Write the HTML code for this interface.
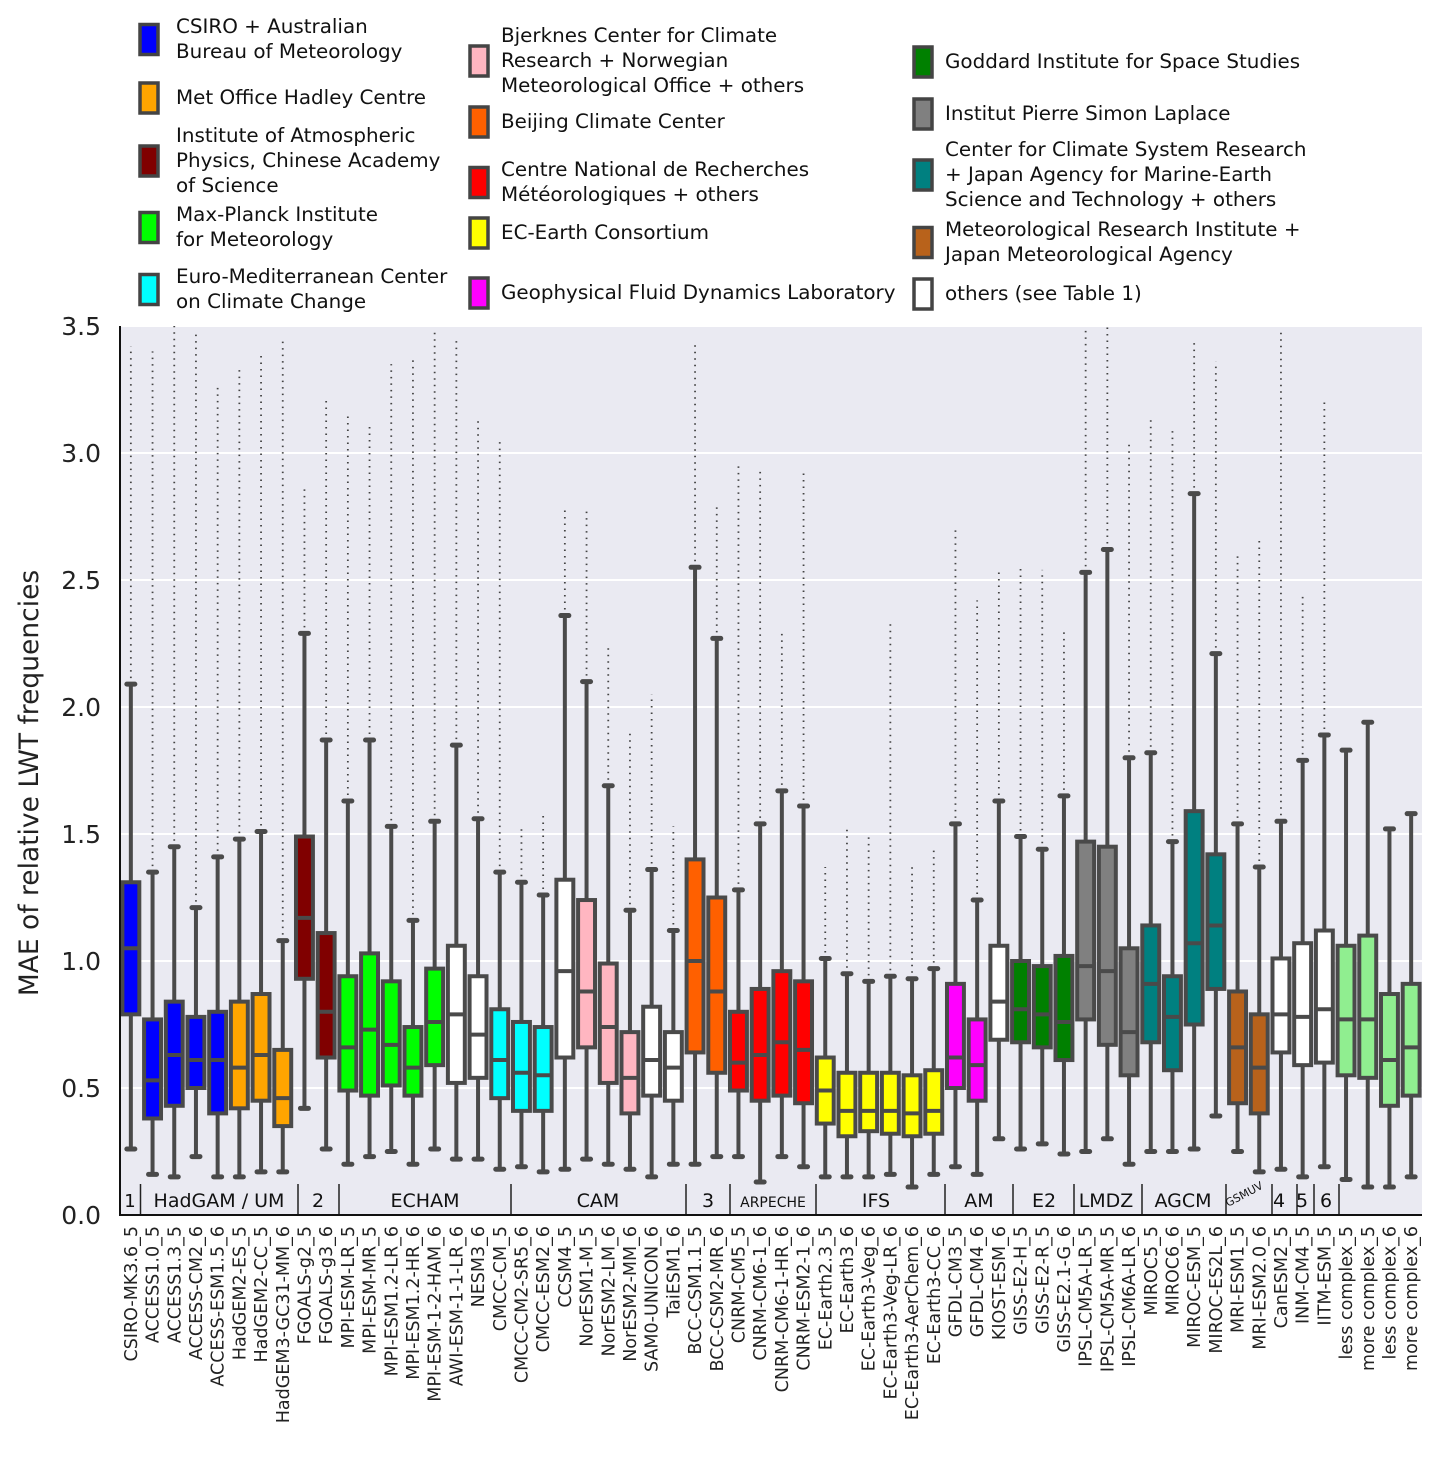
<!DOCTYPE html>
<html><head><meta charset="utf-8"><style>
body{margin:0;background:#fff;width:1441px;height:1467px;overflow:hidden;font-family:"DejaVu Sans","Liberation Sans",sans-serif;}
svg{position:absolute;left:0;top:0}
</style></head><body>
<svg id="chart" width="1441" height="1467" xmlns="http://www.w3.org/2000/svg" font-family="DejaVu Sans, Liberation Sans, sans-serif"></svg>
<script>
const models=["CSIRO-MK3.6_5","ACCESS1.0_5","ACCESS1.3_5","ACCESS-CM2_6","ACCESS-ESM1.5_6","HadGEM2-ES_5","HadGEM2-CC_5","HadGEM3-GC31-MM_6","FGOALS-g2_5","FGOALS-g3_6","MPI-ESM-LR_5","MPI-ESM-MR_5","MPI-ESM1.2-LR_6","MPI-ESM1.2-HR_6","MPI-ESM-1-2-HAM_6","AWI-ESM-1-1-LR_6","NESM3_6","CMCC-CM_5","CMCC-CM2-SR5_6","CMCC-ESM2_6","CCSM4_5","NorESM1-M_5","NorESM2-LM_6","NorESM2-MM_6","SAM0-UNICON_6","TaiESM1_6","BCC-CSM1.1_5","BCC-CSM2-MR_6","CNRM-CM5_5","CNRM-CM6-1_6","CNRM-CM6-1-HR_6","CNRM-ESM2-1_6","EC-Earth2.3_5","EC-Earth3_6","EC-Earth3-Veg_6","EC-Earth3-Veg-LR_6","EC-Earth3-AerChem_6","EC-Earth3-CC_6","GFDL-CM3_5","GFDL-CM4_6","KIOST-ESM_6","GISS-E2-H_5","GISS-E2-R_5","GISS-E2.1-G_6","IPSL-CM5A-LR_5","IPSL-CM5A-MR_5","IPSL-CM6A-LR_6","MIROC5_5","MIROC6_6","MIROC-ESM_5","MIROC-ES2L_6","MRI-ESM1_5","MRI-ESM2.0_6","CanESM2_5","INM-CM4_5","IITM-ESM_5","less complex_5","more complex_5","less complex_6","more complex_6"];
const whiskLow=[0.26,0.16,0.15,0.23,0.15,0.15,0.17,0.17,0.42,0.26,0.20,0.23,0.25,0.20,0.26,0.22,0.22,0.18,0.19,0.17,0.18,0.22,0.20,0.18,0.15,0.20,0.20,0.23,0.23,0.13,0.23,0.19,0.15,0.15,0.15,0.16,0.11,0.16,0.19,0.16,0.30,0.26,0.28,0.24,0.25,0.30,0.20,0.25,0.25,0.26,0.39,0.25,0.17,0.18,0.15,0.19,0.14,0.11,0.11,0.15];
const q1=[0.79,0.38,0.43,0.50,0.40,0.42,0.45,0.35,0.93,0.62,0.49,0.47,0.51,0.47,0.59,0.52,0.54,0.46,0.41,0.41,0.62,0.66,0.52,0.40,0.47,0.45,0.64,0.56,0.49,0.45,0.47,0.44,0.36,0.31,0.33,0.32,0.31,0.32,0.50,0.45,0.69,0.68,0.66,0.61,0.77,0.67,0.55,0.68,0.57,0.75,0.89,0.44,0.40,0.64,0.59,0.60,0.55,0.54,0.43,0.47];
const median=[1.05,0.53,0.63,0.61,0.61,0.58,0.63,0.46,1.17,0.80,0.66,0.73,0.67,0.58,0.76,0.79,0.71,0.61,0.56,0.55,0.96,0.88,0.74,0.54,0.61,0.58,1.00,0.88,0.60,0.63,0.68,0.65,0.49,0.41,0.41,0.41,0.40,0.41,0.62,0.59,0.84,0.81,0.79,0.76,0.98,0.96,0.72,0.91,0.78,1.07,1.14,0.66,0.58,0.79,0.78,0.81,0.77,0.77,0.61,0.66];
const q3=[1.31,0.77,0.84,0.78,0.80,0.84,0.87,0.65,1.49,1.11,0.94,1.03,0.92,0.74,0.97,1.06,0.94,0.81,0.76,0.74,1.32,1.24,0.99,0.72,0.82,0.72,1.40,1.25,0.80,0.89,0.96,0.92,0.62,0.56,0.56,0.56,0.55,0.57,0.91,0.77,1.06,1.00,0.98,1.02,1.47,1.45,1.05,1.14,0.94,1.59,1.42,0.88,0.79,1.01,1.07,1.12,1.06,1.10,0.87,0.91];
const whiskHigh=[2.09,1.35,1.45,1.21,1.41,1.48,1.51,1.08,2.29,1.87,1.63,1.87,1.53,1.16,1.55,1.85,1.56,1.35,1.31,1.26,2.36,2.10,1.69,1.20,1.36,1.12,2.55,2.27,1.28,1.54,1.67,1.61,1.01,0.95,0.92,0.94,0.93,0.97,1.54,1.24,1.63,1.49,1.44,1.65,2.53,2.62,1.80,1.82,1.47,2.84,2.21,1.54,1.37,1.55,1.79,1.89,1.83,1.94,1.52,1.58];
const flierMax=[3.42,3.40,3.50,3.47,3.27,3.33,3.40,3.44,2.87,3.22,3.15,3.12,3.35,3.37,3.48,3.46,3.13,3.05,1.53,1.59,2.78,2.77,2.25,1.90,2.05,1.53,3.44,2.79,2.95,2.93,2.30,2.93,1.37,1.52,1.50,2.33,1.38,1.45,2.71,2.42,2.53,2.56,2.54,2.31,3.50,3.50,3.05,3.14,3.10,3.44,3.36,2.60,2.66,3.48,2.44,3.20,1.83,1.94,1.52,1.58];
const colorKey=["blue","blue","blue","blue","blue","orange","orange","orange","dred","dred","green","green","green","green","green","white","white","cyan","cyan","cyan","white","pink","pink","pink","white","white","oran","oran","red","red","red","red","yellow","yellow","yellow","yellow","yellow","yellow","mag","mag","white","dgreen","dgreen","dgreen","gray","gray","gray","teal","teal","teal","teal","brown","brown","white","white","white","lgreen","lgreen","lgreen","lgreen"];
const yTicks=[0,0.5,1,1.5,2,2.5,3,3.5];
const palette={blue:"#0000ff",orange:"#ffa500",dred:"#800000",green:"#00ff00",cyan:"#00ffff",white:"#ffffff",pink:"#ffb6c1",oran:"#ff6000",red:"#ff0000",yellow:"#ffff00",mag:"#ff00ff",dgreen:"#008000",gray:"#808080",teal:"#008080",brown:"#b8621b",lgreen:"#90ee90"};

const NS="http://www.w3.org/2000/svg";
const svg=document.getElementById('chart');
const L=120,R=1422,T=326,B=1215;
const band=(R-L)/models.length;
const xc=i=>L+band*(i+0.5);
const y=v=>B-(v/3.5)*(B-T);
function mk(tag,attrs,parent){const e=document.createElementNS(NS,tag);for(const k in attrs)e.setAttribute(k,attrs[k]);(parent||svg).appendChild(e);return e;}

const bg=mk('rect',{x:L,y:T,width:R-L,height:B-T,fill:'#eaeaf2'});


yTicks.forEach(t=>{
  const g=mk('line',{x1:L,x2:R,y1:y(t),y2:y(t),stroke:'#fff','stroke-width':2});
  
  
  const tl=mk('text',{x:101,y:y(t)+9,'text-anchor':'end','font-size':25,fill:'#222'});
  tl.textContent=t.toFixed(1);
  
  
});
const yt=mk('text',{transform:'translate(38,783) rotate(-90)','text-anchor':'middle','font-size':26.5,fill:'#222'});
yt.textContent='MAE of relative LWT frequencies';



const bw=band*0.78;
models.forEach((m,i)=>{
  const g=mk('g',{});
  
  
  const x=xc(i);
  if(flierMax[i]>whiskHigh[i]+0.03){
    mk('line',{x1:x,x2:x,y1:y(whiskHigh[i])-6,y2:y(flierMax[i]),stroke:'#444','stroke-width':1.8,'stroke-dasharray':'1.5 5'},g);
  }
  mk('line',{x1:x,x2:x,y1:y(whiskHigh[i]),y2:y(q3[i]),stroke:'#4a4a4a','stroke-width':4},g);
  mk('line',{x1:x,x2:x,y1:y(q1[i]),y2:y(whiskLow[i]),stroke:'#4a4a4a','stroke-width':4},g);
  mk('line',{x1:x-4,x2:x+4,y1:y(whiskHigh[i]),y2:y(whiskHigh[i]),stroke:'#4a4a4a','stroke-width':5,'stroke-linecap':'round'},g);
  mk('line',{x1:x-4,x2:x+4,y1:y(whiskLow[i]),y2:y(whiskLow[i]),stroke:'#4a4a4a','stroke-width':5,'stroke-linecap':'round'},g);
  mk('rect',{x:x-bw/2,y:y(q3[i]),width:bw,height:y(q1[i])-y(q3[i]),fill:palette[colorKey[i]],stroke:'#4a4a4a','stroke-width':4},g);
  mk('line',{x1:x-bw/2,x2:x+bw/2,y1:y(median[i]),y2:y(median[i]),stroke:'#4a4a4a','stroke-width':4},g);
  const lt=mk('text',{transform:`translate(${x+6},1226) rotate(-90)`,'text-anchor':'end','font-size':17.5,fill:'#222'});
  lt.textContent=m;
  
  
});
const seps=[140.5,298,339,511,686,730,816,945,1013,1074,1142,1226,1272,1297,1314,1339];
seps.forEach(s=>{
  const l=mk('line',{x1:s,x2:s,y1:1184,y2:1215,stroke:'#222','stroke-width':1.5});
  
  
});
const groups=[["1",130,18],["HadGAM / UM",219,19],["2",318,19],["ECHAM",425,19],["CAM",598,19],["3",708,19],["ARPECHE",773,14],["IFS",876,19],["AM",979,19],["E2",1044,19],["LMDZ",1106,19],["AGCM",1183,19],["4",1279,19],["5",1302,19],["6",1326,19]];
groups.forEach(([t,x,fs])=>{
  const e=mk('text',{x:x,y:1207,'text-anchor':'middle','font-size':fs,fill:'#111'});
  e.textContent=t;
  
  
});
const gs=mk('text',{transform:'translate(1228,1207) rotate(-28)','font-size':11,fill:'#111'});
gs.textContent='GSMUV';


const ax=mk('path',{d:`M${L} ${T} V${B} H${R}`,fill:'none',stroke:'#111','stroke-width':2});



const legend=[
 [138,"blue",["CSIRO + Australian","Bureau of Meteorology"],26],
 [138,"orange",["Met Office Hadley Centre"],97],
 [138,"dred",["Institute of Atmospheric","Physics, Chinese Academy","of Science"],135],
 [138,"green",["Max-Planck Institute","for Meteorology"],214],
 [138,"cyan",["Euro-Mediterranean Center","on Climate Change"],276],
 [468,"pink",["Bjerknes Center for Climate","Research + Norwegian","Meteorological Office + others"],35],
 [468,"oran",["Beijing Climate Center"],121],
 [468,"red",["Centre National de Recherches","Météorologiques + others"],169],
 [468,"yellow",["EC-Earth Consortium"],232],
 [468,"mag",["Geophysical Fluid Dynamics Laboratory"],292],
 [912,"dgreen",["Goddard Institute for Space Studies"],61],
 [912,"gray",["Institut Pierre Simon Laplace"],113],
 [912,"teal",["Center for Climate System Research","+ Japan Agency for Marine-Earth","Science and Technology + others"],149],
 [912,"brown",["Meteorological Research Institute +","Japan Meteorological Agency"],229],
 [912,"white",["others (see Table 1)"],293]];
legend.forEach(([x,c,lines,ty])=>{
  const g=mk('g',{});
  
  
  const mid=ty+(lines.length-1)*12.5;
  mk('rect',{x:x+2,y:mid-14,width:18,height:30,fill:palette[c],stroke:'#444','stroke-width':3.5},g);
  lines.forEach((s,k)=>{
    const t=mk('text',{x:x+(x===138?38:33),y:ty+k*25+7,'font-size':19.9,fill:'#111'},g);
    t.textContent=s;
  });
});
</script>
</body></html>
